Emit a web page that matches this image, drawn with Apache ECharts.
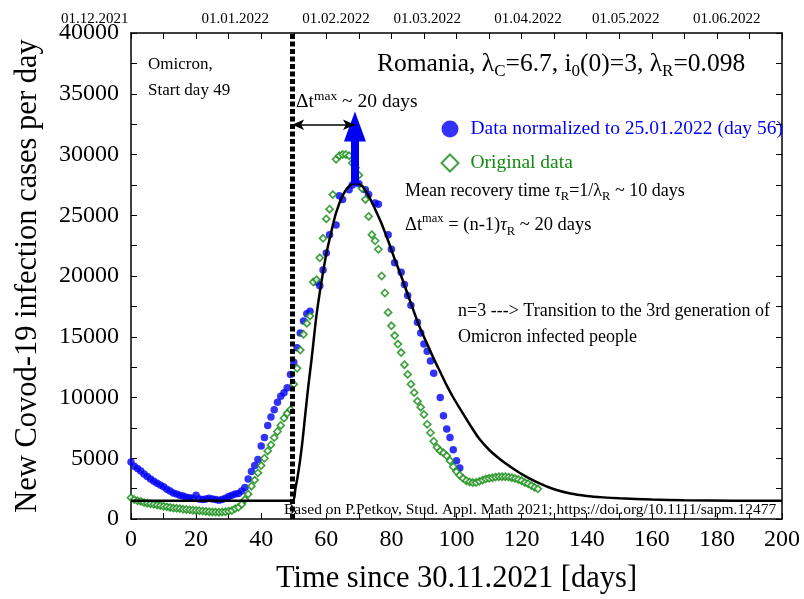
<!DOCTYPE html>
<html><head><meta charset="utf-8">
<script src="https://cdn.jsdelivr.net/npm/echarts@6.0.0/dist/echarts.min.js"></script>
<style>html,body{margin:0;padding:0;background:#fff}#c{width:804px;height:599px}</style>
</head><body><div id="c"></div>
<script>
// Normalized data (blue)
const blueDays = [0,1,2,3,4,5,6,7,8,9,10,11,12,13,14,15,16,17,18,19,20,21,22,23,24,25,26,27,28,29,30,31,32,33,34,35,36,37,38,39,40,41,42,43,44,45,46,47,48,49,50,51,52,53,54,55,57,58,59,60,61,63,64,65,67,68,69,70,72,73,75,76,79,80,81,83,84,85,86,88,89,90,91,92,93,95,96,97,98,99,100,101];
const blueValues = [4700,4350,4150,3950,3700,3500,3300,3100,2950,2800,2650,2450,2300,2150,2050,1950,1900,1800,1750,1700,1950,1650,1600,1650,1700,1650,1600,1550,1600,1700,1850,1950,2050,2100,2300,2600,3300,3900,4400,4900,6000,6700,7700,8400,9000,9600,10100,10400,10800,11900,12900,14100,15300,16300,16900,17100,19500,19200,20500,21900,23400,24200,26600,26300,27100,27500,27700,27600,27100,26700,26000,25900,23400,22200,21100,20300,19300,18400,17600,16200,15300,14400,13800,13000,12000,10000,8500,7400,6700,5700,4800,4200];
// Original data (green)
const greenDays = [0,1,2,3,4,5,6,7,8,9,10,11,12,13,14,15,16,17,18,19,20,21,22,23,24,25,26,27,28,29,30,31,32,33,34,35,36,37,38,39,40,41,42,43,44,45,46,47,48,49,50,51,52,53,54,55,56,57,58,59,60,61,62,63,64,65,66,67,68,69,70,71,72,73,74,75,76,77,78,79,80,81,82,83,84,85,86,87,88,89,90,91,92,93,94,95,96,97,98,99,100,101,102,103,104,105,106,107,108,109,110,111,112,113,114,115,116,117,118,119,120,121,122,123,124,125];
const greenValues = [1750,1600,1500,1450,1350,1300,1250,1200,1150,1100,1050,1000,950,900,880,850,800,780,750,720,700,680,650,620,600,580,570,560,580,600,650,700,850,960,1200,1600,2050,2700,3200,3800,4400,5000,5600,6100,6700,7200,7700,8300,8700,9000,11100,12400,13900,15200,16100,16700,19500,19700,21500,23100,24700,25500,26700,29600,29900,30000,30000,29900,29300,28900,28300,27200,26300,24900,23400,22900,22200,20000,18600,17000,15900,15100,14400,13700,12700,11900,11100,10400,9700,9200,8600,7800,7100,6400,5900,5600,5450,5200,4800,4300,3900,3600,3350,3150,3050,3000,3000,3100,3200,3300,3350,3400,3450,3480,3480,3480,3450,3400,3330,3250,3150,3000,2900,2750,2600,2480];
// Model curve (black)
const fitDays = [0,49.5,50.5,51.5,52.5,53.5,54.5,55.5,57,58.5,60,61.5,63,65,67,69,71,73,75,77,79,81,83,85,87,89,91,93,95,97,99,101.5,104.5,107,110,113,116,120,125,130,135,140,145,150,160,170,185,200];
const fitValues = [1500,1500,2500,4000,6000,8500,11000,13200,16800,19500,21800,23600,25200,26600,27400,27650,27400,26600,25500,24300,22900,21400,20000,18500,17000,15600,14400,13200,12100,11000,10000,8900,7600,6600,5700,5000,4400,3700,3000,2450,2100,1900,1780,1700,1600,1550,1510,1500];
// Top date axis
const dateTickDays = [0,32,63,91,122,152,183];
const dateTickLabels = ['01.12.2021','01.01.2022','01.02.2022','01.03.2022','01.04.2022','01.05.2022','01.06.2022'];
// Annotations
const omicronStartDay = 49.5;
const peakDay = 68.8;
const peakValue = 27600;
const arrowTopValue = 32300;
const dtArrowValue = 32450;

const FAM = "'Liberation Serif','Times New Roman',serif";
const BLUE = '#0000f5';
const GREEN = '#108a10';

const chart = echarts.init(document.getElementById('c'), null, {renderer:'canvas'});
const axisCommon = {
  min: 0, max: 200, interval: 20,
  axisLine: {show: true, onZero: false, lineStyle: {color: '#000', width: 1.5}},
  axisTick: {show: true, inside: true, length: 6, lineStyle: {color: '#000', width: 1}},
  minorTick: {show: true, splitNumber: 2, length: 6, lineStyle: {color: '#000', width: 1}},
  splitLine: {show: false}
};
const yCommon = {
  type: 'value', min: 0, max: 40000, interval: 5000,
  axisLine: {show: true, onZero: false, lineStyle: {color: '#000', width: 1.5}},
  axisTick: {show: true, inside: true, length: 6, lineStyle: {color: '#000', width: 1}},
  minorTick: {show: true, splitNumber: 2, length: 6, lineStyle: {color: '#000', width: 1}},
  splitLine: {show: false}
};
const option = {
  animation: false,
  backgroundColor: '#fff',
  grid: {left: 131, right: 22, top: 33, bottom: 79, containLabel: false},
  xAxis: [
    Object.assign({}, axisCommon, {
      type: 'value', position: 'bottom',
      name: 'Time since 30.11.2021 [days]', nameLocation: 'middle', nameGap: 44,
      nameTextStyle: {fontFamily: FAM, fontSize: 30.5, color: '#000'},
      axisLabel: {fontFamily: FAM, fontSize: 24, color: '#000', margin: 9, formatter: v => String(v)}
    }),
    Object.assign({}, axisCommon, {
      type: 'value', position: 'top',
      axisLabel: {
        show: true, customValues: dateTickDays, margin: 6,
        fontFamily: FAM, fontSize: 15, color: '#000',
        formatter: function (v) {
          const i = dateTickDays.indexOf(v);
          if (i === 0) return '{first|' + dateTickLabels[i] + '}';
          return i >= 0 ? dateTickLabels[i] : '';
        },
        rich: {first: {fontFamily: FAM, fontSize: 15, color: '#000', width: 140, align: 'left'}}
      }
    })
  ],
  yAxis: [
    Object.assign({}, yCommon, {
      position: 'left',
      name: 'New Covod-19 infection cases per day', nameLocation: 'middle', nameGap: 88,
      nameTextStyle: {fontFamily: FAM, fontSize: 30.5, color: '#000'},
      axisLabel: {fontFamily: FAM, fontSize: 24, color: '#000', margin: 12, formatter: v => String(v)}
    }),
    Object.assign({}, yCommon, {position: 'right', axisLabel: {show: false}})
  ],
  legend: {
    orient: 'vertical', left: 440.5, top: 119, padding: 0, itemWidth: 17, itemHeight: 17, itemGap: 14,
    textStyle: {fontFamily: FAM, fontSize: 19.5, padding: [0, 0, 0, 7]},
    data: [
      {name: 'Data normalized to 25.01.2022 (day 56)', textStyle: {color: BLUE}},
      {name: 'Original data', textStyle: {color: GREEN}}
    ]
  },
  series: [
    {
      name: 'Data normalized to 25.01.2022 (day 56)', type: 'scatter', symbol: 'circle', symbolSize: 7.5,
      itemStyle: {color: BLUE},
      data: blueDays.map((d, i) => [d, blueValues[i]]), z: 2
    },
    {
      name: 'Original data', type: 'scatter', symbol: 'diamond', symbolSize: 7,
      itemStyle: {color: '#fff', borderColor: GREEN, borderWidth: 1.7},
      data: greenDays.map((d, i) => [d, greenValues[i]]), z: 3
    },
    {
      name: 'fit', type: 'line', smooth: 0.3, showSymbol: false, symbol: 'none',
      lineStyle: {color: '#000', width: 2.5},
      data: fitDays.map((d, i) => [d, fitValues[i]]), z: 4,
      markLine: {
        silent: true, animation: false, label: {show: false},
        data: [
          [{coord: [peakDay, peakValue], symbol: 'none', lineStyle: {color: BLUE, width: 8, type: 'solid'}},
           {coord: [peakDay, arrowTopValue], symbol: 'triangle', symbolSize: [22, 30]}],
          [{coord: [omicronStartDay, dtArrowValue], symbol: 'arrow', symbolSize: [8, 12], lineStyle: {color: '#000', width: 1.5, type: 'solid'}},
           {coord: [peakDay, dtArrowValue], symbol: 'arrow', symbolSize: [8, 12]}]
        ]
      }
    },
    {
      name: 'start', type: 'line', data: [], z: 6,
      markLine: {
        silent: true, animation: false, symbol: ['none', 'none'], label: {show: false},
        lineStyle: {color: '#000', width: 5, type: [5, 2.5]},
        data: [{xAxis: omicronStartDay}]
      }
    }
  ],
  graphic: [
    {type: 'text', left: 148, top: 52, z: 10, style: {text: 'Omicron,\nStart day 49', font: '17px ' + FAM, lineHeight: 26, fill: '#000'}},
    {type: 'text', left: 377, top: 51, z: 10, style: {
      text: '{n|Romania, λ}{s|C}{n|=6.7, i}{s|0}{n|(0)=3, λ}{s|R}{n|=0.098}',
      rich: {n: {fontFamily: FAM, fontSize: 25.5, lineHeight: 32, fill: '#000'},
             s: {fontFamily: FAM, fontSize: 17, lineHeight: 16, verticalAlign: 'bottom', fill: '#000'}}}},
    {type: 'text', left: 296, top: 89, z: 10, style: {
      text: '{n|Δt}{p|max}{n| ~ 20 days}',
      rich: {n: {fontFamily: FAM, fontSize: 19.5, lineHeight: 26, fill: '#000'},
             p: {fontFamily: FAM, fontSize: 13.5, lineHeight: 13, verticalAlign: 'top', fill: '#000'}}}},
    {type: 'text', left: 405, top: 182, z: 10, style: {
      text: '{n|Mean recovery time }{i|τ}{s|R}{n|=1/λ}{s|R}{n| ~ 10 days}',
      rich: {n: {fontFamily: FAM, fontSize: 18, lineHeight: 24, fill: '#000'},
             i: {fontFamily: FAM, fontSize: 18, fontStyle: 'italic', lineHeight: 24, fill: '#000'},
             s: {fontFamily: FAM, fontSize: 12.5, lineHeight: 12, verticalAlign: 'bottom', fill: '#000'}}}},
    {type: 'text', left: 405, top: 212, z: 10, style: {
      text: '{n|Δt}{p|max}{n| = (n-1)}{i|τ}{s|R}{n| ~ 20 days}',
      rich: {n: {fontFamily: FAM, fontSize: 18.5, lineHeight: 26, fill: '#000'},
             i: {fontFamily: FAM, fontSize: 18.5, fontStyle: 'italic', lineHeight: 26, fill: '#000'},
             p: {fontFamily: FAM, fontSize: 12.5, lineHeight: 12, verticalAlign: 'top', fill: '#000'},
             s: {fontFamily: FAM, fontSize: 12.5, lineHeight: 12, verticalAlign: 'bottom', fill: '#000'}}}},
    {type: 'text', left: 458, top: 299, z: 10, style: {text: 'n=3 ---> Transition to the 3rd generation of\nOmicron infected people', font: '18px ' + FAM, lineHeight: 25.5, fill: '#000'}},
    {type: 'text', left: 284, top: 502, z: 1, style: {text: 'Based on P.Petkov, Stud. Appl. Math 2021; https://doi.org/10.1111/sapm.12477', font: '15.5px ' + FAM, fill: '#000'}}
  ]
};
chart.setOption(option);
</script>
</body></html>
